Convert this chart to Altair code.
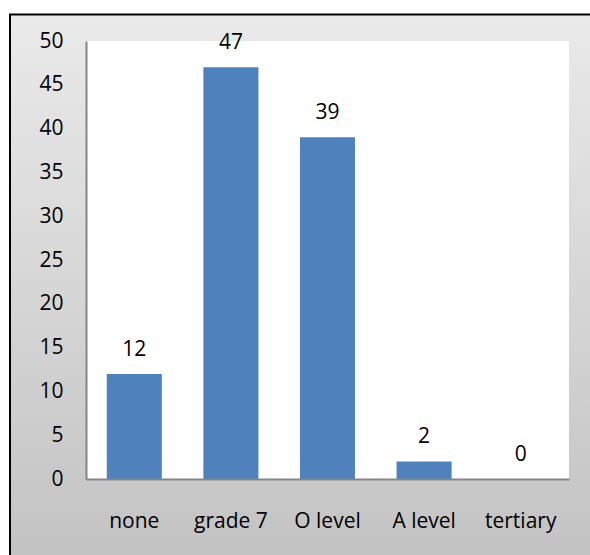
import altair as alt
import pandas as pd

# Education level counts
categories = ["none", "grade 7", "O level", "A level", "tertiary"]
counts = [12, 47, 39, 2, 0]

W, H = 483, 438
FONT = "Open Sans"
BAR = "#4f81bd"
AXIS = "#868686"

df = pd.DataFrame({"level": categories, "count": counts})
one = pd.DataFrame({"k": [0]})

# Chart-area panel: grey vertical gradient with a dark frame
panel = alt.Chart(one).mark_rect(
    color=alt.LinearGradient(
        gradient="linear",
        x1=0, y1=0, x2=0, y2=1,
        stops=[
            alt.GradientStop(color="#eaeaea", offset=0),
            alt.GradientStop(color="#c2c2c2", offset=1),
        ],
    ),
    stroke="#000000",
    strokeWidth=2,
).encode(
    x=alt.value(-76), x2=alt.value(W + 40),
    y=alt.value(-26.5), y2=alt.value(H + 90),
)

# White plot area
plot_bg = alt.Chart(one).mark_rect(color="#ffffff").encode(
    x=alt.value(0), x2=alt.value(W), y=alt.value(0), y2=alt.value(H)
)

base = alt.Chart(df).encode(
    x=alt.X(
        "level:N",
        sort=categories,
        title=None,
        scale=alt.Scale(paddingInner=0.43, paddingOuter=0.215),
        axis=alt.Axis(
            labelAngle=0,
            labelFont=FONT,
            labelFontSize=21,
            labelColor="#000000",
            labelBaseline="alphabetic",
            labelPadding=48,
            tickSize=0,
            tickWidth=0,
            domainColor=AXIS,
            domainWidth=2,
            zindex=2,
        ),
    ),
    y=alt.Y(
        "count:Q",
        title=None,
        scale=alt.Scale(domain=[0, 50], nice=False),
        axis=alt.Axis(
            values=list(range(0, 51, 5)),
            grid=False,
            labelFont=FONT,
            labelFontSize=21,
            labelColor="#000000",
            labelPadding=23,
            tickSize=0,
            tickWidth=0,
            domainColor=AXIS,
            domainWidth=2,
            zindex=2,
        ),
    ),
)

bars = base.mark_bar(color=BAR)

values = base.mark_text(
    font=FONT, fontSize=21, color="#000000", baseline="alphabetic", dy=-18
).encode(text="count:Q")

chart = (
    alt.layer(panel, plot_bg, bars, values)
    .properties(
        width=W,
        height=H,
        autosize=alt.AutoSizeParams(type="none"),
        padding={"left": 86, "top": 41, "right": 21, "bottom": 76},
        background="#ffffff",
    )
    .configure_view(stroke=None)
)

chart.save("out.html", embed_options={"renderer": "svg", "actions": False})
